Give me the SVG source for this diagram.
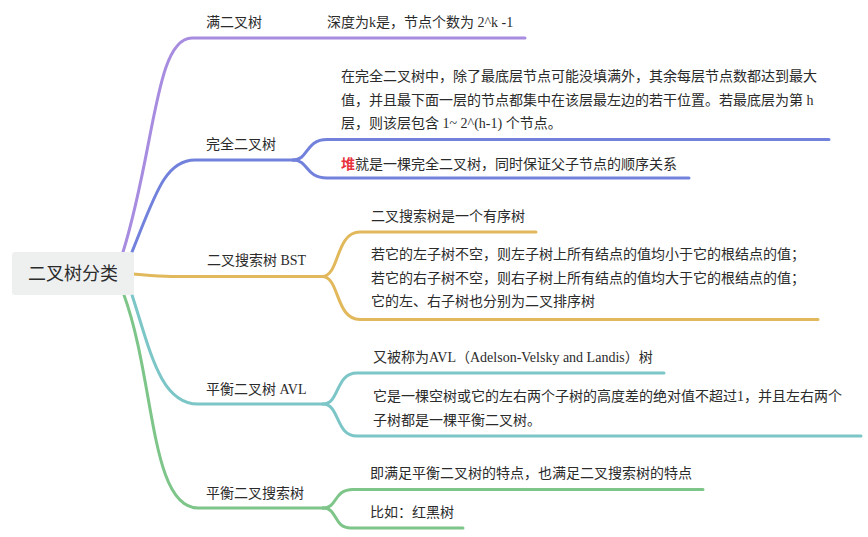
<svg xmlns="http://www.w3.org/2000/svg" width="868" height="537" viewBox="0 0 868 537">
  <style>
    .link { fill: none; stroke-width: 3; stroke-linecap: round; stroke-linejoin: round; }
    .purple { stroke: #a78ce0; }
    .blue { stroke: #7282dc; }
    .yellow { stroke: #e2b85c; }
    .teal { stroke: #7cc6c8; }
    .green { stroke: #7dc588; }
    text { font-family: "Liberation Serif", "Noto Sans CJK SC", serif; font-size: 14px; fill: #2b2b2b; }
    .root-text { font-family: "Noto Sans CJK SC", sans-serif; font-size: 18px; fill: #2b2b2b; }
    .hl { fill: #e8323c; font-weight: bold; }
  </style>

  <rect width="868" height="537" fill="#ffffff"/>

  <!-- connectors -->
  <g id="connectors">
    <!-- 满二叉树 -->
    <path class="link purple" d="M123 252 C 155 150, 155 38, 192 38 L 525 38"/>
    <!-- 完全二叉树 -->
    <path class="link blue" d="M132 252 C 155 195, 165 160, 195 160 L 293 160"/>
    <path class="link blue" d="M293 160 C 309 160, 305 139.5, 327 139.5 L 829 139.5"/>
    <path class="link blue" d="M293 160 C 309 160, 305 178, 327 178 L 689 178"/>
    <!-- 二叉搜索树 BST -->
    <path class="link yellow" d="M133 274 C 160 276.5, 170 276.5, 200 276.5 L 322 276.5"/>
    <path class="link yellow" d="M322 276.5 C 340 276.5, 335 232, 360 232 L 536 232"/>
    <path class="link yellow" d="M322 276.5 C 340 276.5, 335 319.5, 360 319.5 L 818 319.5"/>
    <!-- 平衡二叉树 AVL -->
    <path class="link teal" d="M132 295 C 150 350, 160 404, 198 404 L 323 404"/>
    <path class="link teal" d="M323 404 C 340 404, 335 373, 357 373 L 664 373"/>
    <path class="link teal" d="M323 404 C 340 404, 335 436, 357 436 L 861 436"/>
    <!-- 平衡二叉搜索树 -->
    <path class="link green" d="M124 295 C 155 380, 150 508, 198 508 L 323 508"/>
    <path class="link green" d="M323 508 C 338 508, 333 489.5, 353 489.5 L 703 489.5"/>
    <path class="link green" d="M323 508 C 338 508, 333 528, 351 528 L 463 528"/>
  </g>

  <!-- root -->
  <g id="root">
    <rect x="12" y="252" width="122" height="43" rx="3" fill="#eef0f0"/>
    <text class="root-text" x="73" y="280" text-anchor="middle">二叉树分类</text>
  </g>

  <!-- 满二叉树 -->
  <g id="full-tree">
    <text x="206" y="27">满二叉树</text>
  </g>
  <g id="full-tree-note">
    <text x="327" y="27">深度为k是，节点个数为 2^k -1</text>
  </g>

  <!-- 完全二叉树 -->
  <g id="complete-tree">
    <text x="206" y="149">完全二叉树</text>
  </g>
  <g id="complete-tree-def">
    <text x="341" y="81">在完全二叉树中，除了最底层节点可能没填满外，其余每层节点数都达到最大</text>
    <text x="341" y="104.5">值，并且最下面一层的节点都集中在该层最左边的若干位置。若最底层为第 h</text>
    <text x="341" y="128">层，则该层包含 1~ 2^(h-1) 个节点。</text>
  </g>
  <g id="complete-tree-heap">
    <text x="341" y="169"><tspan class="hl">堆</tspan>就是一棵完全二叉树，同时保证父子节点的顺序关系</text>
  </g>

  <!-- 二叉搜索树 BST -->
  <g id="bst">
    <text x="207" y="265">二叉搜索树 BST</text>
  </g>
  <g id="bst-ordered">
    <text x="371" y="221">二叉搜索树是一个有序树</text>
  </g>
  <g id="bst-rules">
    <text x="371" y="259">若它的左子树不空，则左子树上所有结点的值均小于它的根结点的值；</text>
    <text x="371" y="282.5">若它的右子树不空，则右子树上所有结点的值均大于它的根结点的值；</text>
    <text x="371" y="306">它的左、右子树也分别为二叉排序树</text>
  </g>

  <!-- 平衡二叉树 AVL -->
  <g id="avl">
    <text x="206" y="394">平衡二叉树 AVL</text>
  </g>
  <g id="avl-name">
    <text x="373" y="362">又被称为AVL（Adelson-Velsky and Landis）树</text>
  </g>
  <g id="avl-def">
    <text x="373" y="401">它是一棵空树或它的左右两个子树的高度差的绝对值不超过1，并且左右两个</text>
    <text x="373" y="425">子树都是一棵平衡二叉树。</text>
  </g>

  <!-- 平衡二叉搜索树 -->
  <g id="balanced-bst">
    <text x="206" y="498">平衡二叉搜索树</text>
  </g>
  <g id="balanced-bst-def">
    <text x="370" y="478">即满足平衡二叉树的特点，也满足二叉搜索树的特点</text>
  </g>
  <g id="balanced-bst-example">
    <text x="370" y="517">比如：红黑树</text>
  </g>
</svg>
